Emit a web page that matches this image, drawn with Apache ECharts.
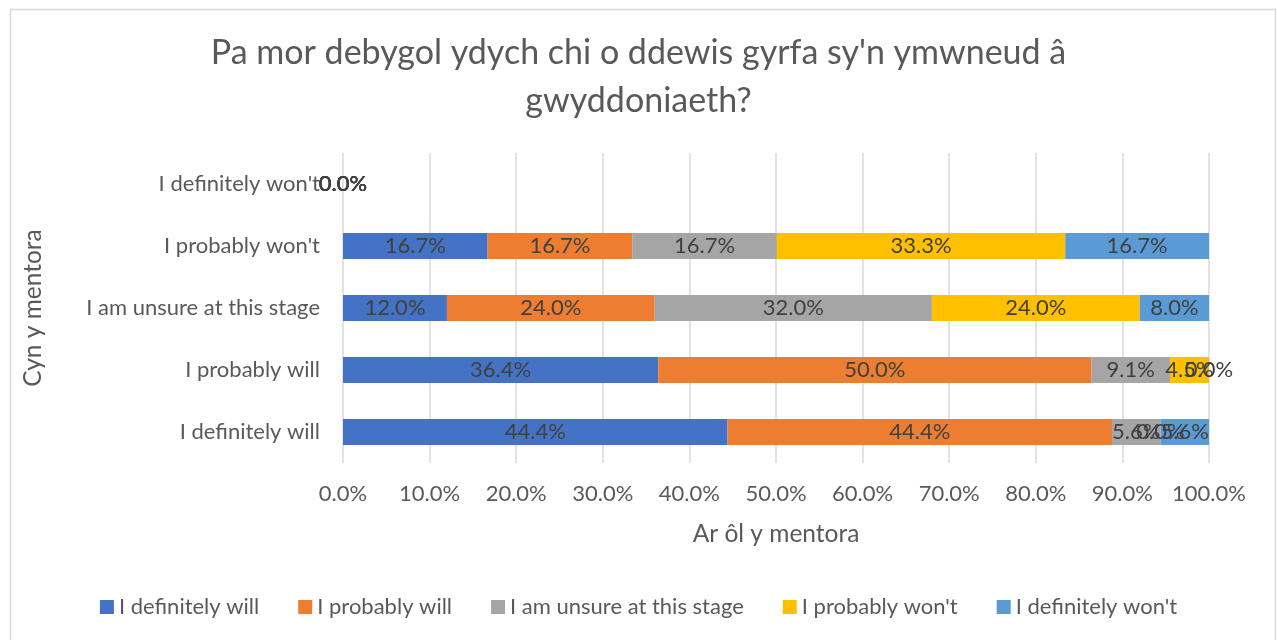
<!DOCTYPE html>
<html>
<head>
<meta charset="utf-8">
<script src="https://cdn.jsdelivr.net/npm/echarts@6/dist/echarts.min.js"></script>
<style>
html,body{margin:0;padding:0;background:#fff;}
#chart{width:1277px;height:640px;}
</style>
</head>
<body>
<div id="chart"></div>
<script>
const titleText = "Pa mor debygol ydych chi o ddewis gyrfa sy'n ymwneud â\ngwyddoniaeth?";
const categories = ["I definitely will", "I probably will", "I am unsure at this stage", "I probably won't", "I definitely won't"];
const seriesNames = ["I definitely will", "I probably will", "I am unsure at this stage", "I probably won't", "I definitely won't"];
const definitelyWill = [44.4, 36.4, 12.0, 16.7, 0.0];
const probablyWill = [44.4, 50.0, 24.0, 16.7, 0.0];
const unsure = [5.6, 9.1, 32.0, 16.7, 0.0];
const probablyWont = [0.0, 4.5, 24.0, 33.3, 0.0];
const definitelyWont = [5.6, 0.0, 8.0, 16.7, 0.0];
const seriesValues = [definitelyWill, probablyWill, unsure, probablyWont, definitelyWont];
const colors = ["#4472C4", "#ED7D31", "#A5A5A5", "#FFC000", "#5B9BD5"];
const xTickMin = 0, xTickMax = 100, xTickStep = 10;

const FONT = "Lato, 'Open Sans', sans-serif";
const chart = echarts.init(document.getElementById('chart'), null, {renderer: 'canvas'});
chart.setOption({
  animation: false,
  color: colors,
  textStyle: {fontFamily: FONT},
  graphic: [{
    type: 'rect', left: 8, top: 7,
    shape: {x: 0, y: 0, width: 1265, height: 645},
    style: {fill: 'none', stroke: '#D9D9D9', lineWidth: 1.5},
    silent: true
  }],
  title: {
    text: titleText, left: 'center', top: 24,
    textStyle: {fontFamily: FONT, fontSize: 34, fontWeight: 'normal', color: '#595959', lineHeight: 48}
  },
  grid: {left: 343, right: 68, top: 153, bottom: 177, containLabel: false},
  xAxis: {
    type: 'value', min: xTickMin, max: xTickMax, interval: xTickStep,
    name: 'Ar ôl y mentora', nameLocation: 'middle', nameGap: 59,
    nameTextStyle: {fontFamily: FONT, fontSize: 24.5, color: '#595959'},
    axisLine: {show: false}, axisTick: {show: false},
    axisLabel: {formatter: v => v.toFixed(1) + '%', fontSize: 22, color: '#595959', margin: 20, fontFamily: FONT},
    splitLine: {show: true, lineStyle: {color: '#D9D9D9', width: 1.5}}
  },
  yAxis: {
    type: 'category', data: categories,
    name: 'Cyn y mentora', nameLocation: 'middle', nameGap: 297, nameRotate: 90,
    nameTextStyle: {fontFamily: FONT, fontSize: 24.5, color: '#595959'},
    axisLine: {show: false}, axisTick: {show: false},
    axisLabel: {fontSize: 22, color: '#595959', margin: 23, fontFamily: FONT}
  },
  legend: {
    top: 591, left: 'center', icon: 'rect', itemWidth: 14, itemHeight: 14, itemGap: 39,
    textStyle: {fontSize: 22, color: '#595959', fontFamily: FONT},
    data: seriesNames
  },
  series: seriesNames.map((n, i) => ({
    name: n, type: 'bar', stack: 'total', barWidth: 26,
    data: seriesValues[i],
    label: {show: true, position: 'inside', formatter: p => p.value.toFixed(1) + '%',
      fontSize: 22, color: '#404040', fontFamily: FONT}
  }))
});
</script>
</body>
</html>
